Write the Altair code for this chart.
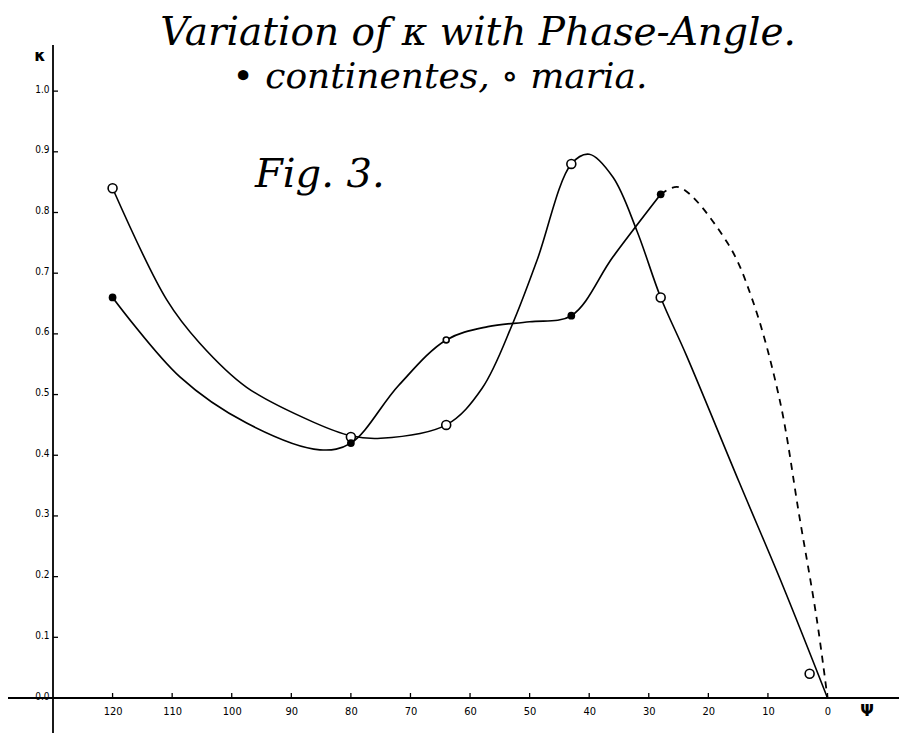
import altair as alt
import pandas as pd

# ---- data ----
# marked observations
cont_x = [120, 80, 43, 28]
cont_y = [0.66, 0.42, 0.63, 0.83]
cont_small_x = [64]
cont_small_y = [0.59]
maria_x = [120, 80, 64, 43, 28, 3]
maria_y = [0.84, 0.43, 0.45, 0.88, 0.66, 0.04]

# hand-drawn curves (traced vertices)
maria_curve_x = [120, 110.9, 105.4, 97.5, 86.4, 80, 75, 64, 58, 52.8, 48.8, 43, 40, 36, 32, 28, 23.7, 14.8, 7.5, 0]
maria_curve_y = [0.84, 0.656, 0.585, 0.512, 0.455, 0.432, 0.428, 0.45, 0.51, 0.618, 0.72, 0.88, 0.896, 0.858, 0.77, 0.66, 0.565, 0.355, 0.185, 0.0]
cont_curve_x = [120, 108.7, 97.5, 85.2, 80, 72, 64, 57, 50, 43, 36, 28]
cont_curve_y = [0.66, 0.529, 0.453, 0.409, 0.42, 0.515, 0.59, 0.612, 0.62, 0.63, 0.727, 0.83]
dash_x = [28, 25, 16.8, 12.6, 8, 4.7, 1.8, 0]
dash_y = [0.83, 0.842, 0.75, 0.656, 0.49, 0.298, 0.13, 0.0]

x_ticks = [120, 110, 100, 90, 80, 70, 60, 50, 40, 30, 20, 10, 0]
y_ticks = [0.0, 0.1, 0.2, 0.3, 0.4, 0.5, 0.6, 0.7, 0.8, 0.9, 1.0]

title_1 = ["Variation of κ with Phase-Angle."]
title_2 = ["• continentes, ∘ maria."]
fig_label = ["Fig. 3."]
y_name = ["κ"]
x_name = ["Ψ"]

W, H = 846, 653
FONT = "DejaVu Serif"

xs = alt.Scale(domain=[130, -12], nice=False, zero=False)
ys = alt.Scale(domain=[0, 1.076], nice=False, zero=False)

x_axis = alt.Axis(values=x_ticks, title=None, grid=False, domain=False, ticks=False,
                  labelFontSize=11, labelPadding=7, labelColor="black",
                  labelFont="DejaVu Sans Condensed")
y_axis = alt.Axis(values=y_ticks, title=None, grid=False, domain=False, ticks=False,
                  format=".1f", labelFontSize=10, labelPadding=4, labelColor="black",
                  labelFont="DejaVu Sans Condensed", labelOffset=-2)

def df(xv, yv):
    return pd.DataFrame({"psi": xv, "k": yv})

maria_line = alt.Chart(df(maria_curve_x, maria_curve_y)).mark_line(
    color="black", strokeWidth=1.6, interpolate="catmull-rom"
).encode(x=alt.X("psi:Q", scale=xs, axis=x_axis), y=alt.Y("k:Q", scale=ys, axis=y_axis))

cont_line = alt.Chart(df(cont_curve_x, cont_curve_y)).mark_line(
    color="black", strokeWidth=1.7, interpolate="catmull-rom"
).encode(x=alt.X("psi:Q", scale=xs), y=alt.Y("k:Q", scale=ys))

dash_line = alt.Chart(df(dash_x, dash_y)).mark_line(
    color="black", strokeWidth=1.8, strokeDash=[7, 6], interpolate="catmull-rom"
).encode(x=alt.X("psi:Q", scale=xs), y=alt.Y("k:Q", scale=ys))

maria_pts = alt.Chart(df(maria_x, maria_y)).mark_point(
    shape="circle", filled=True, fill="white", stroke="black", strokeWidth=1.6, size=80, opacity=1
).encode(x=alt.X("psi:Q", scale=xs), y=alt.Y("k:Q", scale=ys))

cont_pts = alt.Chart(df(cont_x, cont_y)).mark_point(
    shape="circle", filled=True, color="black", size=60, opacity=1
).encode(x=alt.X("psi:Q", scale=xs), y=alt.Y("k:Q", scale=ys))

cont_small = alt.Chart(df(cont_small_x, cont_small_y)).mark_point(
    shape="circle", filled=True, fill="white", stroke="black", strokeWidth=1.6, size=35, opacity=1
).encode(x=alt.X("psi:Q", scale=xs), y=alt.Y("k:Q", scale=ys))

# axis lines (hand-drawn style, extending past the plot)
x_axis_line = alt.Chart(pd.DataFrame({"a": [0]})).mark_rule(color="black", strokeWidth=2.2).encode(
    x=alt.value(-45), x2=alt.value(W + 10), y=alt.value(H)
)
y_axis_line = alt.Chart(pd.DataFrame({"a": [0]})).mark_rule(color="black", strokeWidth=1.8).encode(
    x=alt.value(0), y=alt.value(0), y2=alt.value(H + 60)
)
x_tick_marks = alt.Chart(pd.DataFrame({"psi": x_ticks})).mark_rule(color="black", strokeWidth=1.3).encode(
    x=alt.X("psi:Q", scale=xs), y=alt.value(H), y2=alt.value(H - 5)
)
y_tick_marks = alt.Chart(pd.DataFrame({"k": y_ticks})).mark_rule(color="black", strokeWidth=1.3).encode(
    y=alt.Y("k:Q", scale=ys), x=alt.value(0), x2=alt.value(5)
)

def text_layer(txt, x, y, size, align="center", style="italic", weight="normal", font=FONT):
    return alt.Chart(pd.DataFrame({"t": txt})).mark_text(
        font=font, fontSize=size, fontStyle=style, fontWeight=weight, align=align,
        baseline="alphabetic", color="black"
    ).encode(text="t:N", x=alt.value(x), y=alt.value(y))

t1 = text_layer(title_1, 425, 0, 39)
t2 = text_layer(title_2, 387, 43, 36)
t3 = text_layer(fig_label, 202, 142, 40, align="left")
tk = text_layer(y_name, -13, 16, 16, style="normal", weight="bold", font="DejaVu Sans")
tp = text_layer(x_name, 814, H + 18, 16, style="normal", weight="bold", font="DejaVu Sans")

chart = alt.layer(
    maria_line, cont_line, dash_line, x_axis_line, y_axis_line, x_tick_marks, y_tick_marks,
    maria_pts, cont_pts, cont_small, t1, t2, t3, tk, tp
).properties(
    width=W, height=H,
    autosize=alt.AutoSizeParams(type="none"),
    padding={"left": 45, "top": 37, "right": 0, "bottom": 35},
    background="white",
).configure_view(stroke=None)

chart.save("out.html", embed_options={"renderer": "svg", "actions": False})
